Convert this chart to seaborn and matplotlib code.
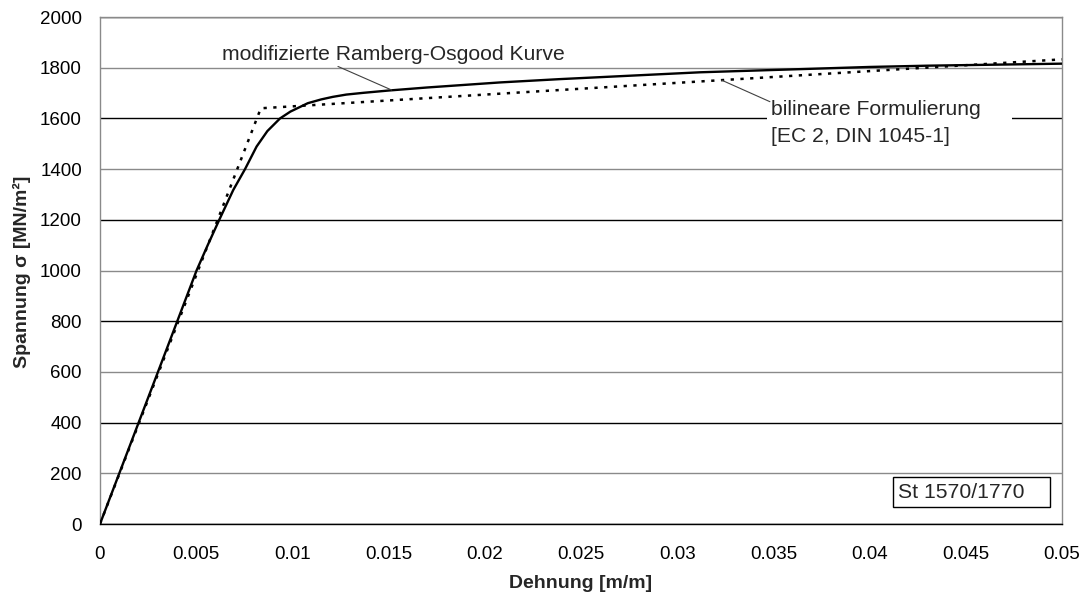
import matplotlib
matplotlib.use("Agg")
import matplotlib.pyplot as plt
from matplotlib.patches import Rectangle
import pandas as pd
import seaborn as sns

# Modified Ramberg-Osgood curve (strain [m/m], stress [MN/m²])
ro_strain = [0.0, 0.00303, 0.00502, 0.0056, 0.0062, 0.00693, 0.00754, 0.00814,
             0.0087, 0.00936, 0.0099, 0.0108, 0.0115, 0.0121, 0.0128, 0.0137,
             0.0150, 0.0170, 0.0208, 0.0239, 0.0312, 0.040, 0.043, 0.050]
ro_stress = [0, 603, 1000, 1100, 1200, 1318, 1400, 1489,
             1550, 1600, 1627, 1660, 1675, 1685, 1694, 1701,
             1710, 1722, 1742, 1755, 1782, 1803, 1808, 1816]

# Bilinear formulation per EC 2 / DIN 1045-1
bl_strain = [0.0, 0.00836, 0.050]
bl_stress = [0, 1640, 1833]

y_ticks = [0, 200, 400, 600, 800, 1000, 1200, 1400, 1600, 1800, 2000]
x_ticks = [0, 0.005, 0.01, 0.015, 0.02, 0.025, 0.03, 0.035, 0.04, 0.045, 0.05]
x_labels = ["0", "0.005", "0.01", "0.015", "0.02", "0.025", "0.03", "0.035",
            "0.04", "0.045", "0.05"]

sns.set_style("white")
plt.rcParams["font.family"] = ["Liberation Sans", "DejaVu Sans"]

fig = plt.figure(figsize=(10.83, 5.95), dpi=100)
ax = fig.add_axes([0.0923, 0.1193, 0.8883, 0.8521])

df_ro = pd.DataFrame({"strain": ro_strain, "stress": ro_stress})
df_bl = pd.DataFrame({"strain": bl_strain, "stress": bl_stress})

sns.lineplot(data=df_ro, x="strain", y="stress", ax=ax, color="black",
             linewidth=1.7, sort=False, zorder=4)
sns.lineplot(data=df_bl, x="strain", y="stress", ax=ax, color="black",
             linewidth=1.8, sort=False, zorder=3, linestyle=(0, (1.3, 2.6)))

ax.set_xlim(0, 0.05)
ax.set_ylim(0, 2000)
ax.set_xticks(x_ticks)
ax.set_xticklabels(x_labels)
ax.set_yticks(y_ticks)

# horizontal gridlines
ax.grid(axis="y", linewidth=1.0)
for i, gl in enumerate(ax.get_ygridlines()):
    gl.set_color("black" if i % 2 == 0 else "#8a8a8a")
ax.set_axisbelow(True)

for side in ["left", "top", "right"]:
    ax.spines[side].set_color("#8a8a8a")
    ax.spines[side].set_linewidth(1.0)
ax.spines["bottom"].set_color("black")
ax.spines["bottom"].set_linewidth(1.0)

ax.tick_params(axis="both", direction="out", length=5, width=1.0,
               labelsize=13.5, colors="black")
ax.tick_params(axis="x", pad=11)
ax.tick_params(axis="y", color="#505050", pad=8)

ax.set_xlabel("Dehnung [m/m]", fontsize=14, fontweight="bold")
ax.set_ylabel("Spannung σ [MN/m²]", fontsize=14, fontweight="bold")
ax.xaxis.set_label_coords(0.5, -0.100)
ax.yaxis.set_label_coords(-0.0717, 0.498)

# curve annotations
ax.text(0.00634, 1830, "modifizierte Ramberg-Osgood Kurve", fontsize=15.2,
        va="baseline", ha="left", zorder=6)
ax.plot([0.01237, 0.01516], [1805, 1712], color="#404040", lw=0.8, zorder=6)

ax.add_patch(Rectangle((0.03466, 1480), 0.01272, 200, facecolor="white",
                       edgecolor="none", zorder=2))
ax.plot([0.03231, 0.03482], [1751, 1666], color="#404040", lw=0.8, zorder=6)
ax.text(0.0349, 1508, "bilineare Formulierung\n[EC 2, DIN 1045-1]",
        fontsize=15.2, va="baseline", ha="left", linespacing=1.5, zorder=5)

# steel grade label box
ax.add_patch(Rectangle((0.8246, 0.0329), 0.1632, 0.0592, transform=ax.transAxes,
                       facecolor="white", edgecolor="black", lw=1.0, zorder=6))
ax.text(0.8293, 0.0507, "St 1570/1770", transform=ax.transAxes, fontsize=15.2,
        va="baseline", ha="left", zorder=7)

fig.savefig("out.png", dpi=100)
